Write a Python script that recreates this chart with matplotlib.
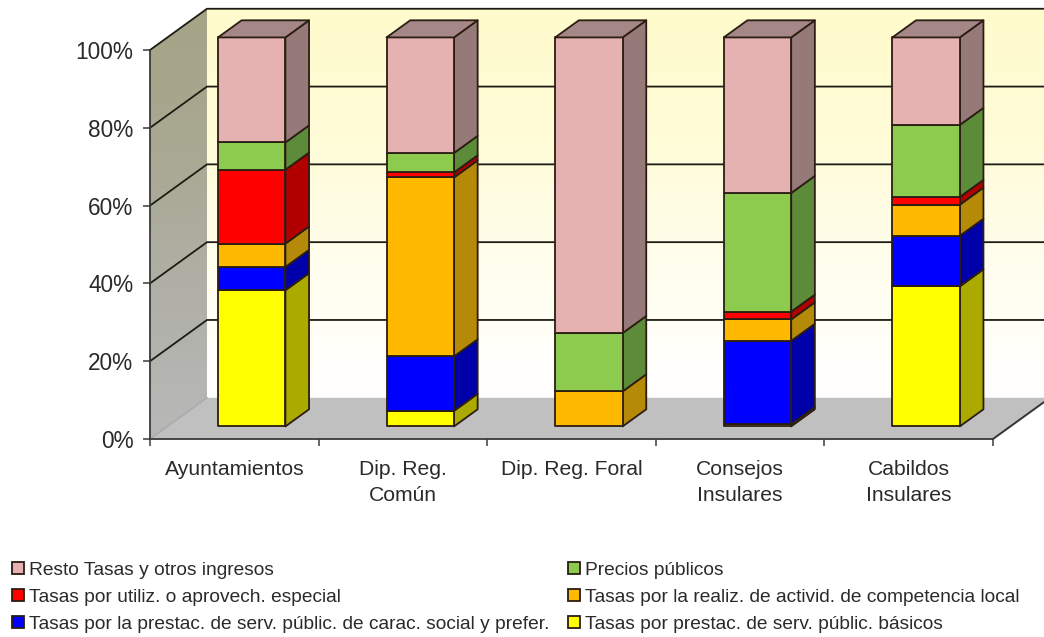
#!/usr/bin/env python3
"""Stacked 3D-look bars for tasas y precios publicos, by type of local entity."""
import numpy as np
import matplotlib
matplotlib.use("Agg")
import matplotlib.pyplot as plt
from matplotlib.colors import LinearSegmentedColormap
from matplotlib.patches import Patch, Polygon

plt.rcParams["font.family"] = ["Liberation Sans", "DejaVu Sans"]

categories = ["Ayuntamientos", "Dip. Reg.\nComún", "Dip. Reg. Foral", "Consejos\nInsulares", "Cabildos\nInsulares"]
basicos = [35, 4, 0, 0.6, 36]
social = [6, 14, 0, 21.4, 13]
competencia = [6, 46, 9, 5.5, 8]
especial = [19, 1.3, 0, 2, 2]
precios = [7, 5, 15, 30.5, 18.5]
resto = [27, 29.7, 76, 40, 22.5]

series = [basicos, social, competencia, especial, precios, resto]
series_names = [
    "Tasas por prestac. de serv. públic. básicos",
    "Tasas por la prestac. de serv. públic. de carac. social y prefer.",
    "Tasas por la realiz. de activid. de competencia local",
    "Tasas por utiliz. o aprovech. especial",
    "Precios públicos",
    "Resto Tasas y otros ingresos",
]
front_colors = ["#FFFF00", "#0000FF", "#FFB900", "#FF0000", "#8CCB4E", "#E6B1B1"]
side_colors = ["#AAAA00", "#0000AA", "#B58A08", "#B00000", "#5C8C3A", "#967A7A"]
top_color = "#A58787"
edge = "#2B1D12"

# depth of the box, in data units
DX = 0.338
DY = 10.6
BAR_W = 0.4
BAR_D0 = 0.305
BAR_D1 = 0.72


def shift(x, y, d):
    return (x + d * DX, y + d * DY)


def face(ax, pts, color, z, lw=1.3):
    ax.add_patch(Polygon(pts, closed=True, facecolor=color, edgecolor=edge, lw=lw,
                         joinstyle="round", clip_on=False, zorder=z))


def gradient(ax, fig, colors, extent, clip_pts, z):
    cmap = LinearSegmentedColormap.from_list("wall", colors)
    im = ax.imshow(np.linspace(0, 1, 256).reshape(-1, 1), cmap=cmap, extent=extent,
                   aspect="auto", origin="upper", zorder=z, interpolation="bilinear")
    poly = Polygon(clip_pts, closed=True, transform=ax.transData)
    im.set_clip_path(poly)
    im.set_clip_box(fig.bbox)


fig = plt.figure(figsize=(10.44, 6.37), dpi=100)
ax = fig.add_axes([150 / 1044, (637 - 439) / 637, 843 / 1044, 389 / 637])
n = len(categories)

# back wall, side wall, floor
gradient(ax, fig, ["#FFFBCC", "#FFFCD8", "#FFFEEE", "#FFFFFF"], (DX, n + DX, DY, 100 + DY),
         [(DX, DY), (DX, 100 + DY), (n + DX, 100 + DY), (n + DX, DY)], 1)
gradient(ax, fig, ["#A6A486", "#A9A892", "#B0B0A8", "#B8B8B8"], (0, DX, 0, 100 + DY),
         [(0, 0), (DX, DY), (DX, 100 + DY), (0, 100)], 1)
ax.add_patch(Polygon([(0, 0), (DX, DY), (n + DX, DY), (n, 0)], closed=True,
                     facecolor="#C0C0C0", edgecolor="none", clip_on=False, zorder=1))
ax.plot([n, n + DX], [0, DY], color="#333333", lw=1.4, clip_on=False, zorder=2)
ax.plot([0, DX], [0, DY], color="#A8A8A8", lw=1.0, clip_on=False, zorder=2)

# gridlines run along the side wall and across the back
for v in range(20, 101, 20):
    ax.plot([0, DX, n + DX], [v, v + DY, v + DY], color="#1C1C14", lw=1.3,
            clip_on=False, zorder=2)

for i in range(n):
    x0, _ = shift(i + 0.5 - BAR_W / 2, 0, BAR_D0)
    x1 = x0 + BAR_W
    y_front = BAR_D0 * DY
    base = 0.0
    z = 3 + i
    dx = (BAR_D1 - BAR_D0) * DX
    dy = (BAR_D1 - BAR_D0) * DY
    for vals, fc, sc in zip(series, front_colors, side_colors):
        v = vals[i]
        if v <= 0:
            continue
        y0 = base + y_front
        y1 = y0 + v
        face(ax, [(x1, y0), (x1 + dx, y0 + dy), (x1 + dx, y1 + dy), (x1, y1)], sc, z)
        face(ax, [(x0, y0), (x1, y0), (x1, y1), (x0, y1)], fc, z)
        base += v
    face(ax, [(x0, y1), (x1, y1), (x1 + dx, y1 + dy), (x0 + dx, y1 + dy)], top_color, z)

ax.set_xlim(0, n)
ax.set_ylim(0, 100)
for s in ["top", "right"]:
    ax.spines[s].set_visible(False)
ax.patch.set_visible(False)
for s in ["left", "bottom"]:
    ax.spines[s].set_color("#3A3A3A")
    ax.spines[s].set_linewidth(1.3)
    ax.spines[s].set_zorder(2.5)

ax.set_yticks(range(0, 101, 20))
ax.set_yticklabels([f"{v}%" for v in range(0, 101, 20)], fontsize=16.3, color="#2A2A2A")
ax.tick_params(axis="y", length=5, width=1.1, color="#3A3A3A", pad=7)
ax.set_xticks(range(n + 1))
ax.set_xticklabels([])
ax.tick_params(axis="x", which="major", length=5, width=1.1, color="#3A3A3A")
ax.set_xticks([i + 0.5 for i in range(n)], minor=True)
ax.set_xticklabels(categories, minor=True, fontsize=15.2, color="#2A2A2A", linespacing=1.47)
ax.tick_params(axis="x", which="minor", length=0, pad=15)

order = [5, 3, 1, 4, 2, 0]
handles = [Patch(facecolor=front_colors[k], edgecolor="#2B1D12", lw=1.3) for k in order]
fig.legend(handles, [series_names[k] for k in order], ncols=2, frameon=False,
           loc="upper left", bbox_to_anchor=(12 / 1044, 1 - 562 / 637),
           fontsize=13.8, labelcolor="#2A2A2A", handlelength=0.6, handleheight=0.6,
           handletextpad=0.27, labelspacing=0.52, columnspacing=1.0,
           borderpad=0, borderaxespad=0)

fig.savefig("out.png", dpi=100)
